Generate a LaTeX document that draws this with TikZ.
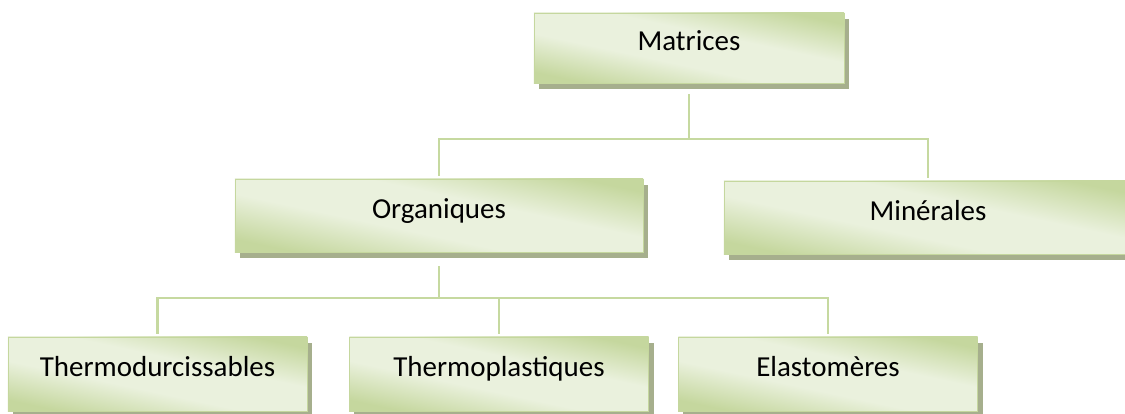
\documentclass[tikz,border=0pt]{standalone}
\usepackage{fontspec}
\setmainfont{Carlito}
\usetikzlibrary{shadows}
\definecolor{gdark}{RGB}{197,215,158}
\definecolor{glight}{RGB}{234,241,221}
\definecolor{gshadow}{RGB}{166,175,141}
\definecolor{glink}{RGB}{198,217,160}
\pgfdeclareverticalshading{boxshade}{100bp}{color(0bp)=(gdark); color(25bp)=(gdark);
  color(42bp)=(glight); color(58bp)=(glight); color(75bp)=(gdark); color(100bp)=(gdark)}
\begin{document}
\begin{tikzpicture}[x=0.025cm,y=-0.025cm,
    box/.style={shading=boxshade, shading angle=-12,
      draw=gdark, line width=0.4pt, inner sep=0pt, outer sep=0pt,
      text height=0.75em, text depth=0.35em,
      font=\fontsize{20.6pt}{24pt}\selectfont,
      drop shadow={shadow xshift=0.125cm, shadow yshift=-0.15cm, fill=gshadow, opacity=1}},
    link/.style={draw=glink, line width=0.0625cm}]
  \useasboundingbox (0,0) rectangle (1125,414);

  % level 1
  \node [box, minimum width=7.75cm, minimum height=1.75cm] (mat) at (689,48) {Matrices};

  % level 2
  \node [box, minimum width=10.2cm, minimum height=1.825cm] (org) at (439,215.5) {Organiques};
  \node [box, minimum width=10.2cm, minimum height=1.825cm] (min) at (928,217.5) {Minérales};

  % level 3
  \node [box, minimum width=7.475cm, minimum height=1.85cm] (tdur) at (157.5,374) {Thermodurcissables};
  \node [box, minimum width=7.475cm, minimum height=1.85cm] (tpla) at (499,374) {Thermoplastiques};
  \node [box, minimum width=7.475cm, minimum height=1.85cm] (elas) at (828,374) {Elastomères};

  % connectors
  \draw [link, shorten <=0.275cm, shorten >=0.075cm] (mat.south) -- ++(0,56) -| (org.north);
  \draw [link, shorten <=0.275cm, shorten >=0.075cm] (mat.south) -- ++(0,56) -| (min.north);
  \draw [link, shorten <=0.35cm, shorten >=0.075cm] (org.south) -- ++(0,46) -| (tdur.north);
  \draw [link, shorten <=0.35cm, shorten >=0.075cm] (org.south) -- ++(0,46) -| (tpla.north);
  \draw [link, shorten <=0.35cm, shorten >=0.075cm] (org.south) -- ++(0,46) -| (elas.north);
\end{tikzpicture}
\end{document}
